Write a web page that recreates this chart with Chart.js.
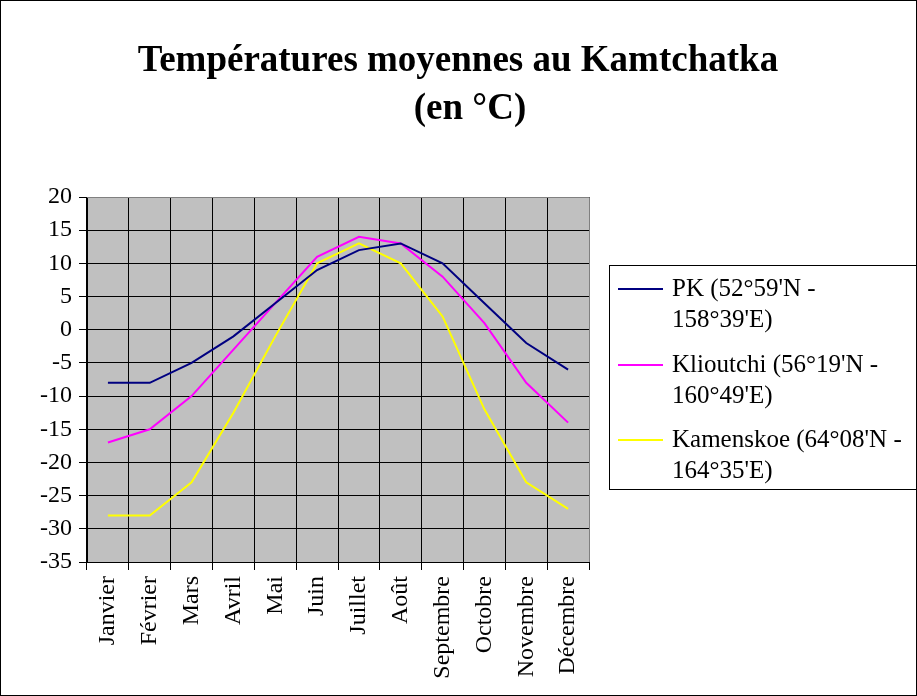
<!DOCTYPE html>
<html>
<head>
<meta charset="utf-8">
<script src="https://cdn.jsdelivr.net/npm/chart.js@4/dist/chart.umd.min.js"></script>
<style>
  html, body { margin: 0; padding: 0; background: #fff; }
  #wrap { width: 917px; height: 696px; }
</style>
</head>
<body>
<div id="wrap"><canvas id="chart" width="917" height="696"></canvas></div>
<script>
const months = ['Janvier', 'Février', 'Mars', 'Avril', 'Mai', 'Juin', 'Juillet', 'Août', 'Septembre', 'Octobre', 'Novembre', 'Décembre'];
const pkValues = [-8, -8, -5, -1, 4, 9, 12, 13, 10, 4, -2, -6];
const klioutchiValues = [-17, -15, -10, -3, 4, 11, 14, 13, 8, 1, -8, -14];
const kamenskoeValues = [-28, -28, -23, -12.5, -1, 10, 13, 10, 2, -12, -23, -27];
const seriesLabels = [
    ["PK (52°59'N -", "158°39'E)"],
    ["Klioutchi (56°19'N -", "160°49'E)"],
    ["Kamenskoe (64°08'N -", "164°35'E)"],
];
const seriesColors = ['#000080', '#ff00ff', '#ffff00'];
const titleLines = ['Températures moyennes au Kamtchatka', '(en °C)'];

const serif = 'Liberation Serif, "Times New Roman", serif';

const backgroundPlugin = {
    id: 'background',
    beforeDraw(chart) {
        const { ctx, chartArea } = chart;
        ctx.save();
        ctx.fillStyle = '#fff';
        ctx.fillRect(0, 0, chart.width, chart.height);
        ctx.fillStyle = '#c0c0c0';
        ctx.fillRect(chartArea.left, chartArea.top, chartArea.right - chartArea.left, chartArea.bottom - chartArea.top);
        ctx.restore();
    },
};

const decorPlugin = {
    id: 'decor',
    afterDraw(chart) {
        const { ctx, chartArea } = chart;
        ctx.save();
        // outer frame
        ctx.strokeStyle = '#000';
        ctx.lineWidth = 1;
        ctx.strokeRect(0.5, 0.5, chart.width - 1, chart.height - 1);

        // plot area frame
        ctx.strokeStyle = '#808080';
        ctx.beginPath();
        ctx.moveTo(chartArea.left, chartArea.top + 0.5);
        ctx.lineTo(chartArea.right + 0.5, chartArea.top + 0.5);
        ctx.lineTo(chartArea.right + 0.5, chartArea.bottom);
        ctx.stroke();

        // title
        ctx.fillStyle = '#000';
        ctx.font = 'bold 37px ' + serif;
        ctx.textAlign = 'center';
        ctx.textBaseline = 'middle';
        ctx.fillText(titleLines[0], 458, 61);
        ctx.fillText(titleLines[1], 470, 109);

        // legend
        ctx.strokeStyle = '#000';
        ctx.strokeRect(609.5, 265.5, 320, 224);
        ctx.font = '25px ' + serif;
        ctx.textAlign = 'left';
        const rowY = [289, 365, 440];
        chart.data.datasets.forEach((ds, i) => {
            const y = rowY[i];
            ctx.strokeStyle = ds.borderColor;
            ctx.lineWidth = 2;
            ctx.beginPath();
            ctx.moveTo(618, y);
            ctx.lineTo(663, y);
            ctx.stroke();
            ctx.fillStyle = '#000';
            seriesLabels[i].forEach((line, j) => ctx.fillText(line, 672, y + j * 31));
        });
        ctx.restore();
    },
};

new Chart(document.getElementById('chart'), {
    type: 'line',
    data: {
        labels: months,
        datasets: [pkValues, klioutchiValues, kamenskoeValues].map((values, i) => ({
            label: seriesLabels[i].join(' '),
            data: values,
            borderColor: seriesColors[i],
            backgroundColor: seriesColors[i],
            borderWidth: 2,
            pointRadius: 0,
            tension: 0,
            fill: false,
        })),
    },
    options: {
        responsive: false,
        animation: false,
        layout: { padding: { top: 197, right: 328, left: 0, bottom: 0 } },
        plugins: { legend: { display: false }, title: { display: false }, tooltip: { enabled: false } },
        scales: {
            x: {
                offset: true,
                grid: { color: '#000', offset: true, tickLength: 8, lineWidth: 1 },
                border: { color: '#000', width: 1 },
                ticks: { color: '#000', font: { family: serif, size: 24 }, minRotation: 90, maxRotation: 90, padding: 6, autoSkip: false },
                afterFit: scale => { scale.height = 134; },
            },
            y: {
                min: -35,
                max: 20,
                grid: { color: '#000', tickLength: 8, lineWidth: 1 },
                border: { color: '#000', width: 1 },
                ticks: { stepSize: 5, color: '#000', font: { family: serif, size: 24 }, padding: 7 },
                afterFit: scale => { scale.width = 87; },
            },
        },
    },
    plugins: [backgroundPlugin, decorPlugin],
});
</script>
</body>
</html>
